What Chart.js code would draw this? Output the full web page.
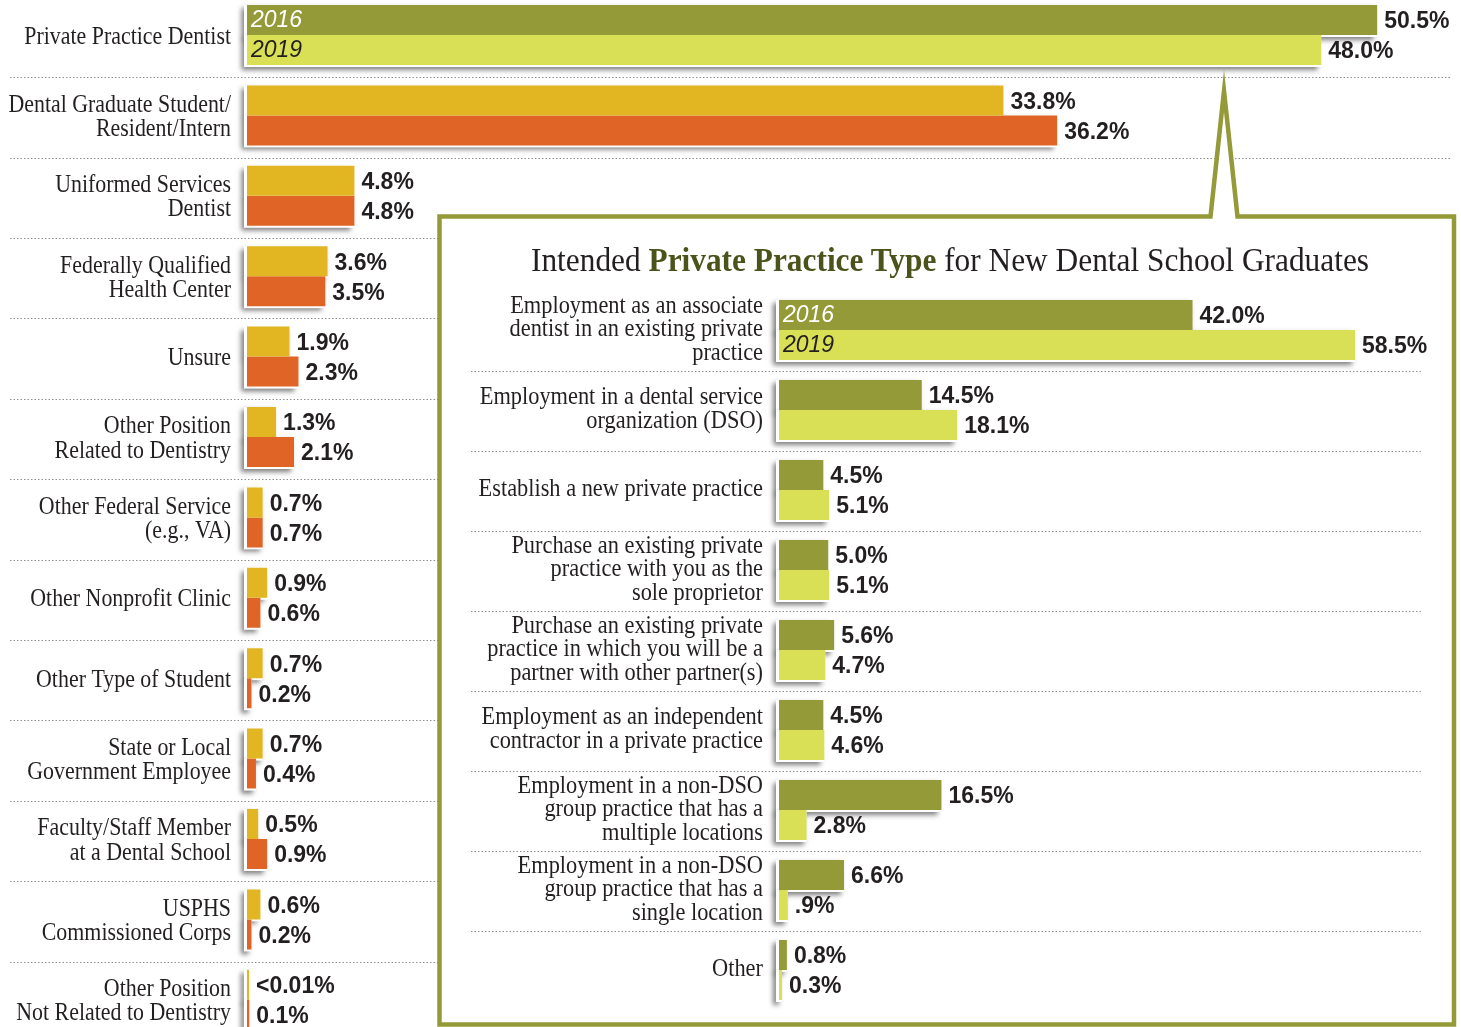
<!DOCTYPE html>
<html>
<head>
<meta charset="utf-8">
<script src="https://cdn.jsdelivr.net/npm/chart.js@4.4.1/dist/chart.umd.min.js"></script>
<style>
html, body { margin: 0; padding: 0; background: #fff; overflow: hidden; }
#wrap { position: relative; width: 1461px; height: 1027px; overflow: hidden; }
canvas { position: absolute; left: 0; }
#main { top: -6px; width: 1461px; height: 1052px; }
#inset { top: 0; width: 1461px; height: 1027px; }
#title { position: absolute; left: 449.5px; width: 1000px; top: 240px; text-align: center;
  font: 33px "Liberation Serif", serif; line-height: 40px; color: #231f20;
  transform: scaleX(0.95); white-space: nowrap; }
#title b { color: #4b531b; }
</style>
</head>
<body>
<div id="wrap">
  <canvas id="main" width="1461" height="1052"></canvas>
  <canvas id="inset" width="1461" height="1027"></canvas>
  <div id="title">Intended <b>Private Practice Type</b> for New Dental School Graduates</div>
</div>
<script>
"use strict";
// ---- data ----
const years = ["2016", "2019"];

const mainCats = [
    "Private Practice Dentist",
    ["Dental Graduate Student/", "Resident/Intern"],
    ["Uniformed Services", "Dentist"],
    ["Federally Qualified", "Health Center"],
    "Unsure",
    ["Other Position", "Related to Dentistry"],
    ["Other Federal Service", "(e.g., VA)"],
    "Other Nonprofit Clinic",
    "Other Type of Student",
    ["State or Local", "Government Employee"],
    ["Faculty/Staff Member", "at a Dental School"],
    ["USPHS", "Commissioned Corps"],
    ["Other Position", "Not Related to Dentistry"]
];
const main2016 = [50.5, 33.8, 4.8, 3.6, 1.9, 1.3, 0.7, 0.9, 0.7, 0.7, 0.5, 0.6, 0.01];
const main2019 = [48.0, 36.2, 4.8, 3.5, 2.3, 2.1, 0.7, 0.6, 0.2, 0.4, 0.9, 0.2, 0.1];
const main2016Text = ["50.5%", "33.8%", "4.8%", "3.6%", "1.9%", "1.3%", "0.7%", "0.9%", "0.7%", "0.7%", "0.5%", "0.6%", "<0.01%"];
const main2019Text = ["48.0%", "36.2%", "4.8%", "3.5%", "2.3%", "2.1%", "0.7%", "0.6%", "0.2%", "0.4%", "0.9%", "0.2%", "0.1%"];

const typeCats = [
    ["Employment as an associate", "dentist in an existing private", "practice"],
    ["Employment in a dental service", "organization (DSO)"],
    "Establish a new private practice",
    ["Purchase an existing private", "practice with you as the", "sole proprietor"],
    ["Purchase an existing private", "practice in which you will be a", "partner with other partner(s)"],
    ["Employment as an independent", "contractor in a private practice"],
    ["Employment in a non-DSO", "group practice that has a", "multiple locations"],
    ["Employment in a non-DSO", "group practice that has a", "single location"],
    "Other"
];
const type2016 = [42.0, 14.5, 4.5, 5.0, 5.6, 4.5, 16.5, 6.6, 0.8];
const type2019 = [58.5, 18.1, 5.1, 5.1, 4.7, 4.6, 2.8, 0.9, 0.3];
const type2016Text = ["42.0%", "14.5%", "4.5%", "5.0%", "5.6%", "4.5%", "16.5%", "6.6%", "0.8%"];
const type2019Text = ["58.5%", "18.1%", "5.1%", "5.1%", "4.7%", "4.6%", "2.8%", ".9%", "0.3%"];

// ---- colours ----
const olive = "#949a38", lime = "#d9e056", gold = "#e2b622", orange = "#e06426";
const ink = "#231f20";

// separators, bar shadows, value labels, category labels
const decor = {
    id: "decor",
    beforeDraw(chart, args, o) {
        if (!o.box) return;
        const ctx = chart.ctx;
        ctx.save();
        ctx.beginPath();
        ctx.moveTo(439.5, 216.5);
        ctx.lineTo(1210.5, 216.5);
        ctx.lineTo(1224, 91);
        ctx.lineTo(1237.5, 216.5);
        ctx.lineTo(1454, 216.5);
        ctx.lineTo(1454, 1024.5);
        ctx.lineTo(439.5, 1024.5);
        ctx.closePath();
        ctx.fillStyle = "#fff";
        ctx.fill();
        ctx.lineWidth = 4.5;
        ctx.lineJoin = "miter";
        ctx.miterLimit = 30;
        ctx.strokeStyle = olive;
        ctx.stroke();
        ctx.restore();
    },
    beforeDatasetsDraw(chart, args, o) {
        const ctx = chart.ctx;
        const y = chart.scales.y;
        ctx.save();
        ctx.strokeStyle = "#8f8f8f";
        ctx.lineWidth = 1;
        ctx.setLineDash([1.5, 2]);
        for (let i = 0; i < chart.data.labels.length - 1; i++) {
            let p = (y.getPixelForValue(i) + y.getPixelForValue(i + 1)) / 2 + o.sepShift;
            p = Math.round(p) + 0.5;
            ctx.beginPath();
            ctx.moveTo(o.sepFrom, p);
            ctx.lineTo(o.sepTo, p);
            ctx.stroke();
        }
        ctx.restore();

        ctx.save();
        ctx.shadowColor = "rgba(0,0,0,0.5)";
        ctx.shadowBlur = 5;
        ctx.shadowOffsetX = -3;
        ctx.shadowOffsetY = 3;
        ctx.fillStyle = "#fff";
        chart.data.datasets.forEach((ds, di) => {
            chart.getDatasetMeta(di).data.forEach(bar => {
                const h = bar.height;
                ctx.fillRect(bar.base - 3, bar.y - h / 2, bar.x - bar.base + 3, h + 2);
            });
        });
        ctx.restore();
    },
    afterDatasetsDraw(chart, args, o) {
        const ctx = chart.ctx;
        ctx.save();
        ctx.textAlign = "left";
        ctx.textBaseline = "middle";
        chart.data.datasets.forEach((ds, di) => {
            chart.getDatasetMeta(di).data.forEach((bar, i) => {
                ctx.font = "bold 23px 'Liberation Sans', sans-serif";
                ctx.fillStyle = ink;
                ctx.fillText(ds.valueText[i], bar.x + 7, bar.y + 2);
                if (i === 0) {
                    ctx.font = "italic 23px 'Liberation Sans', sans-serif";
                    ctx.fillStyle = di === 0 ? "#fff" : ink;
                    ctx.fillText(ds.label, bar.base + 4, bar.y + 1);
                }
            });
        });

        const y = chart.scales.y;
        ctx.font = "24.5px 'Liberation Serif', serif";
        ctx.textAlign = "right";
        ctx.textBaseline = "alphabetic";
        ctx.fillStyle = ink;
        chart.data.labels.forEach((lab, i) => {
            const lines = [].concat(lab);
            const c = y.getPixelForValue(i);
            lines.forEach((t, k) => {
                ctx.save();
                ctx.translate(o.labelRight, c + o.baseShift + (k - (lines.length - 1) / 2) * o.lineH);
                ctx.scale(o.squeeze, 1);
                ctx.fillText(t, 0, 0);
                ctx.restore();
            });
        });
        ctx.restore();
    }
};

function makeChart(canvas, cats, d16, d19, t16, t19, c16, c19, xMax, pad, pitchPct, deco) {
    return new Chart(canvas, {
        type: "bar",
        data: {
            labels: cats,
            datasets: [
                { label: years[0], data: d16, valueText: t16, backgroundColor: c16 },
                { label: years[1], data: d19, valueText: t19, backgroundColor: c19 }
            ]
        },
        options: {
            indexAxis: "y",
            responsive: false,
            animation: false,
            devicePixelRatio: 1,
            events: [],
            datasets: {
                bar: { categoryPercentage: pitchPct, barPercentage: 1, minBarLength: 2, borderWidth: 0 }
            },
            layout: { padding: pad },
            scales: {
                x: { display: false, min: 0, max: xMax },
                y: { display: false }
            },
            plugins: {
                legend: { display: false },
                tooltip: { enabled: false },
                decor: deco
            }
        },
        plugins: [decor]
    });
}

window.onload = function () {
    makeChart(document.getElementById("main"), mainCats, main2016, main2019, main2016Text, main2019Text,
        mainCats.map((c, i) => i === 0 ? olive : gold),
        mainCats.map((c, i) => i === 0 ? lime : orange),
        54, { left: 247, right: 5.5, top: 0.8, bottom: 6 }, 0.746,
        { sepFrom: 10, sepTo: 1451, sepShift: 2, labelRight: 231, baseShift: 8.5, lineH: 24.3, squeeze: 0.894, box: false });

    makeChart(document.getElementById("inset"), typeCats, type2016, type2019, type2016Text, type2019Text,
        olive, lime,
        65, { left: 779, right: 42, top: 290, bottom: 17 }, 0.75,
        { sepFrom: 471, sepTo: 1423, sepShift: 1, labelRight: 763, baseShift: 6, lineH: 23.5, squeeze: 0.913, box: true });
};
</script>
</body>
</html>
